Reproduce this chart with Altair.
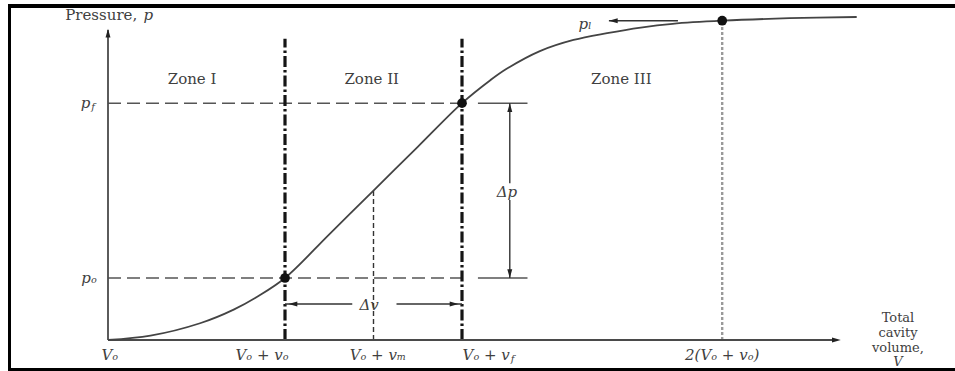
import altair as alt
import pandas as pd

# Pressure-volume curve of the test (V measured from V_o, p in arbitrary units)
curve_v = [0.0, 0.24, 0.52, 0.71, 0.85, 1.0, 1.25, 1.5, 1.75, 2.0, 2.16, 2.25, 2.44, 2.63, 2.82,
           3.01, 3.19, 3.47, 3.85, 4.23]
curve_p = [0.0, 0.07, 0.27, 0.49, 0.71, 1.0, 1.705, 2.41, 3.115, 3.82, 4.19, 4.37, 4.66, 4.84, 4.95,
           5.04, 5.10, 5.15, 5.19, 5.21]

# Characteristic volumes and pressures
v_o, v_m, v_f, v_2 = 1.0, 1.5, 2.0, 3.47
p_o, p_m, p_f, p_l = 1.0, 2.41, 3.82, 5.15

# Canvas layout: pixel position of the origin and pixels per unit
W, H = 955, 371
ORIGIN_X, ORIGIN_Y = 108, 340
PX_V, PX_P = 177, 62

x_scale = alt.Scale(domain=[-ORIGIN_X / PX_V, (W - ORIGIN_X) / PX_V], nice=False, zero=False)
y_scale = alt.Scale(domain=[(ORIGIN_Y - H) / PX_P, ORIGIN_Y / PX_P], nice=False, zero=False)

FONT = "DejaVu Serif"
INK = "#404040"
ARROW = "M0,0L0.62,2.2L-0.62,2.2Z"   # arrowhead with its tip at the anchor point


def X(f="x"):
    return alt.X(f"{f}:Q", scale=x_scale, axis=None)


def Y(f="y"):
    return alt.Y(f"{f}:Q", scale=y_scale, axis=None)


def segs(x, x2, y, y2, **mark):
    df = pd.DataFrame({"x": x, "x2": x2, "y": y, "y2": y2})
    return alt.Chart(df).mark_rule(**mark).encode(x=X(), x2="x2:Q", y=Y(), y2="y2:Q")


def texts(x, y, t, size=15, italic=False, align="center", dy=0, color=INK):
    df = pd.DataFrame({"x": x, "y": y, "t": t})
    return alt.Chart(df).mark_text(
        font=FONT, fontSize=size, fontStyle="italic" if italic else "normal",
        align=align, baseline="middle", dy=dy, color=color,
    ).encode(x=X(), y=Y(), text="t:N")


one = pd.DataFrame({"a": [0]})
frame = alt.layer(
    alt.Chart(one).mark_rule(color="black", strokeWidth=4).encode(
        x=alt.value(8), x2=alt.value(W), y=alt.value(6)),
    alt.Chart(one).mark_rule(color="black", strokeWidth=3).encode(
        x=alt.value(9.5), y=alt.value(4), y2=alt.value(H)),
    alt.Chart(one).mark_rule(color="black", strokeWidth=3).encode(
        x=alt.value(8), x2=alt.value(W), y=alt.value(369.5)),
)

# Axes
axes = segs([0, 0], [0, 4.10], [0, 0], [5.0, 0], color="#4a4a4a", strokeWidth=1.8)

# Zone boundaries (dash-dot), guide lines
bounds = segs([v_o, v_f], [v_o, v_f], [0, 0], [4.86, 4.86],
              color="#151515", strokeWidth=3.2, strokeDash=[11, 3, 2.5, 3])
limit_line = segs([v_2], [v_2], [0], [p_l], color="#9a9a9a", strokeWidth=2.4, strokeDash=[3, 2])
mid_line = segs([v_m], [v_m], [0], [p_m], color="#333333", strokeWidth=1.4, strokeDash=[5, 3])
p_lines = segs([0, 0], [v_f, v_f], [p_o, p_f], [p_o, p_f],
               color="#555555", strokeWidth=1.5, strokeDash=[13, 6])
p_ext = segs([2.09, 2.09], [2.37, 2.37], [p_o, p_f], [p_o, p_f], color="#555555", strokeWidth=1.5)

# Dimension lines for delta p, delta v and the limit-pressure pointer
dims = segs([2.27, 2.27, v_o, 1.63, 2.83],
            [2.27, 2.27, 1.38, v_f, 3.22],
            [p_f, 2.26, 0.58, 0.58, p_l],
            [2.53, p_o, 0.58, 0.58, p_l],
            color="#333333", strokeWidth=1.4)

heads = alt.Chart(pd.DataFrame({
    "x": [0, 4.14, 2.27, 2.27, v_o + 0.02, v_f - 0.02, 2.83],
    "y": [5.02, 0, p_f, p_o, 0.58, 0.58, p_l],
    "angle": [0, 90, 0, 180, 270, 90, 270],
})).mark_point(shape=ARROW, filled=True, opacity=1, color="#222222", size=64).encode(
    x=X(), y=Y(), angle=alt.Angle("angle:Q", scale=None))

curve = alt.Chart(pd.DataFrame({"x": curve_v, "y": curve_p})).mark_line(
    interpolate="catmull-rom", color="#444444", strokeWidth=1.8).encode(x=X(), y=Y())

dots = alt.Chart(pd.DataFrame({"x": [v_o, v_f, v_2], "y": [p_o, p_f, p_l]})).mark_point(
    shape="circle", filled=True, opacity=1, color="#111111", size=95).encode(x=X(), y=Y())

# Labels
lbl_zone = texts([0.475, 1.49, 2.90], [4.21] * 3, ["Zone I", "Zone  II", "Zone  III"])
lbl_ylab = texts([0.165], [5.24], ["Pressure,"], align="right")
lbl_ylab_p = texts([0.2], [5.24], ["p"], italic=True, align="left")
lbl_xlab = texts([4.463] * 3, [0.355, 0.113, -0.129], ["Total", "cavity", "volume,"], size=13)
lbl_xlab_v = texts([4.463], [-0.355], ["V"], size=13, italic=True)

lbl_ticks = texts([0.01, 0.87, 1.525, v_2], [-0.24] * 4,
                  ["Vₒ", "Vₒ + vₒ", "Vₒ + vₘ", "2(Vₒ + vₒ)"], italic=True)
lbl_tick_f = texts([2.27], [-0.24], ["Vₒ + v"], italic=True, align="right")
lbl_tick_f_sub = texts([2.275], [-0.24], ["f"], size=10, italic=True, align="left", dy=4)

lbl_p = texts([-0.107, 2.695], [p_o, 5.10], ["pₒ", "pₗ"], italic=True)
lbl_pf = texts([-0.10], [p_f], ["p"], italic=True, align="right")
lbl_pf_sub = texts([-0.095], [p_f], ["f"], size=10, italic=True, align="left", dy=4)
lbl_delta = texts([2.254, 1.475], [2.387, 0.565], ["Δp", "Δv"], italic=True)

chart = alt.layer(
    frame, p_lines, p_ext, mid_line, limit_line, bounds, axes, dims, heads, curve, dots,
    lbl_zone, lbl_ylab, lbl_ylab_p, lbl_xlab, lbl_xlab_v, lbl_ticks, lbl_tick_f,
    lbl_tick_f_sub, lbl_p, lbl_pf, lbl_pf_sub, lbl_delta,
).properties(
    width=W, height=H, padding=0, autosize=alt.AutoSizeParams(type="none"), background="white"
).configure_view(stroke=None)

chart.save("out.html", embed_options={"renderer": "svg", "actions": False})
